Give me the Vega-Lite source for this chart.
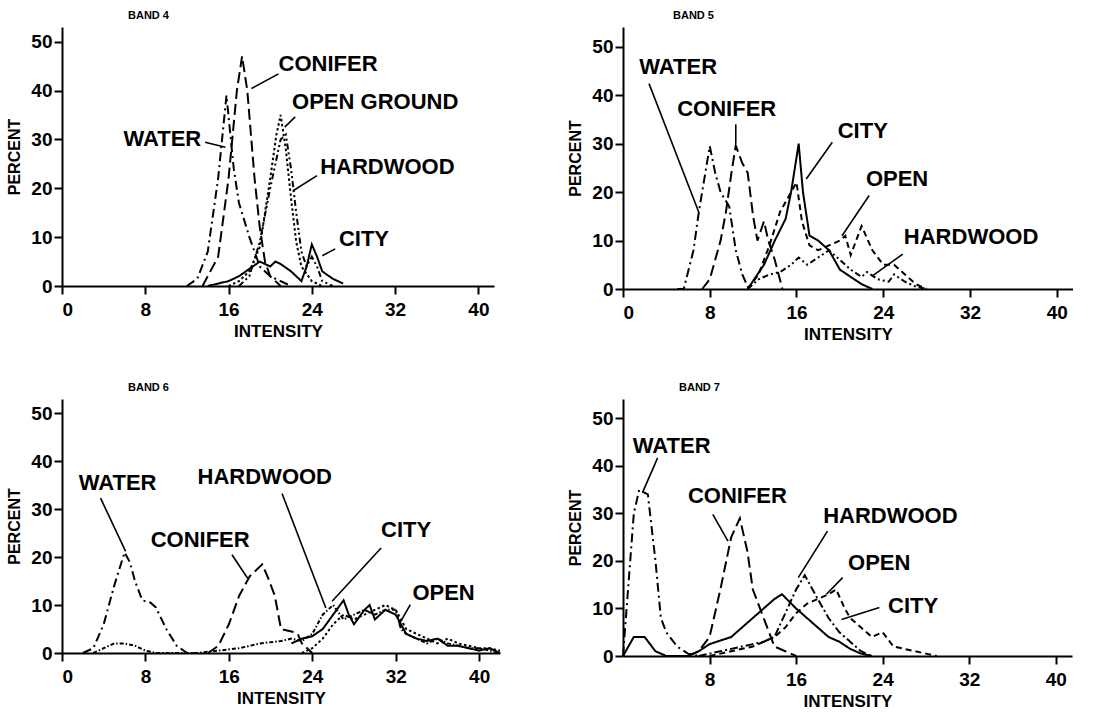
{
  "$schema": "https://vega.github.io/schema/vega-lite/v6.json",
  "background": "white",
  "padding": {"left": 6, "top": 10, "right": 0, "bottom": 0},
  "config": {
    "view": {"stroke": null},
    "font": "Liberation Sans",
    "axis": {
      "grid": false,
      "domainColor": "black",
      "domainWidth": 2,
      "tickColor": "black",
      "tickWidth": 2,
      "tickSize": 8,
      "labelFont": "Liberation Sans",
      "labelFontSize": 19,
      "labelFontWeight": "bold",
      "labelColor": "black",
      "titleFont": "Liberation Sans",
      "titleFontSize": 17,
      "titleFontWeight": "bold",
      "titleColor": "black"
    },
    "axisX": {"labelPadding": 6, "titlePadding": 4},
    "axisY": {"labelPadding": 2, "titlePadding": 8, "titleFontSize": 16},
    "title": {"font": "Liberation Sans", "fontSize": 11, "fontWeight": "bold", "color": "black", "anchor": "start", "frame": "group", "offset": 6}
  },
  "datasets": {
    "lines": [
      {"b":"BAND 4","c":"WATER","x":12,"y":0},{"b":"BAND 4","c":"WATER","x":13,"y":1.5},{"b":"BAND 4","c":"WATER","x":14,"y":7},{"b":"BAND 4","c":"WATER","x":15,"y":22},{"b":"BAND 4","c":"WATER","x":15.8,"y":39},{"b":"BAND 4","c":"WATER","x":16.5,"y":24},{"b":"BAND 4","c":"WATER","x":17,"y":17},{"b":"BAND 4","c":"WATER","x":18,"y":10},{"b":"BAND 4","c":"WATER","x":19,"y":4},{"b":"BAND 4","c":"WATER","x":20,"y":2},{"b":"BAND 4","c":"WATER","x":21,"y":1},{"b":"BAND 4","c":"WATER","x":22,"y":0},
      {"b":"BAND 4","c":"CONIFER","x":13.5,"y":0},{"b":"BAND 4","c":"CONIFER","x":15,"y":6},{"b":"BAND 4","c":"CONIFER","x":16,"y":22},{"b":"BAND 4","c":"CONIFER","x":16.8,"y":40},{"b":"BAND 4","c":"CONIFER","x":17.3,"y":47},{"b":"BAND 4","c":"CONIFER","x":17.8,"y":40},{"b":"BAND 4","c":"CONIFER","x":18.5,"y":22},{"b":"BAND 4","c":"CONIFER","x":19,"y":12},{"b":"BAND 4","c":"CONIFER","x":19.5,"y":5},{"b":"BAND 4","c":"CONIFER","x":20,"y":2},{"b":"BAND 4","c":"CONIFER","x":21,"y":0},
      {"b":"BAND 4","c":"OPEN","x":16,"y":0},{"b":"BAND 4","c":"OPEN","x":17,"y":1},{"b":"BAND 4","c":"OPEN","x":18,"y":3},{"b":"BAND 4","c":"OPEN","x":19,"y":8},{"b":"BAND 4","c":"OPEN","x":20,"y":22},{"b":"BAND 4","c":"OPEN","x":20.6,"y":31},{"b":"BAND 4","c":"OPEN","x":21,"y":35},{"b":"BAND 4","c":"OPEN","x":21.5,"y":28},{"b":"BAND 4","c":"OPEN","x":22,"y":18},{"b":"BAND 4","c":"OPEN","x":22.5,"y":9},{"b":"BAND 4","c":"OPEN","x":23,"y":4},{"b":"BAND 4","c":"OPEN","x":24,"y":1},{"b":"BAND 4","c":"OPEN","x":25,"y":0},
      {"b":"BAND 4","c":"HARDWOOD","x":17,"y":0},{"b":"BAND 4","c":"HARDWOOD","x":18,"y":2},{"b":"BAND 4","c":"HARDWOOD","x":19,"y":9},{"b":"BAND 4","c":"HARDWOOD","x":20,"y":20},{"b":"BAND 4","c":"HARDWOOD","x":21,"y":30},{"b":"BAND 4","c":"HARDWOOD","x":21.5,"y":31},{"b":"BAND 4","c":"HARDWOOD","x":22,"y":24},{"b":"BAND 4","c":"HARDWOOD","x":22.5,"y":15},{"b":"BAND 4","c":"HARDWOOD","x":23,"y":7},{"b":"BAND 4","c":"HARDWOOD","x":23.5,"y":4},{"b":"BAND 4","c":"HARDWOOD","x":24,"y":6},{"b":"BAND 4","c":"HARDWOOD","x":24.5,"y":4},{"b":"BAND 4","c":"HARDWOOD","x":25,"y":1},{"b":"BAND 4","c":"HARDWOOD","x":26,"y":0},
      {"b":"BAND 4","c":"CITY","x":14,"y":0},{"b":"BAND 4","c":"CITY","x":16,"y":1},{"b":"BAND 4","c":"CITY","x":17,"y":2},{"b":"BAND 4","c":"CITY","x":18,"y":3.5},{"b":"BAND 4","c":"CITY","x":19,"y":5},{"b":"BAND 4","c":"CITY","x":20,"y":4},{"b":"BAND 4","c":"CITY","x":20.5,"y":5},{"b":"BAND 4","c":"CITY","x":21,"y":4.5},{"b":"BAND 4","c":"CITY","x":22,"y":3},{"b":"BAND 4","c":"CITY","x":23,"y":1},{"b":"BAND 4","c":"CITY","x":23.5,"y":4},{"b":"BAND 4","c":"CITY","x":24,"y":8.5},{"b":"BAND 4","c":"CITY","x":24.5,"y":6},{"b":"BAND 4","c":"CITY","x":25,"y":3},{"b":"BAND 4","c":"CITY","x":26,"y":1.5},{"b":"BAND 4","c":"CITY","x":27,"y":0.5},

      {"b":"BAND 5","c":"WATER","x":5,"y":0},{"b":"BAND 5","c":"WATER","x":5.6,"y":0},{"b":"BAND 5","c":"WATER","x":6.5,"y":8},{"b":"BAND 5","c":"WATER","x":7,"y":16},{"b":"BAND 5","c":"WATER","x":8,"y":29.5},{"b":"BAND 5","c":"WATER","x":8.5,"y":24},{"b":"BAND 5","c":"WATER","x":9,"y":20},{"b":"BAND 5","c":"WATER","x":9.8,"y":17},{"b":"BAND 5","c":"WATER","x":10.4,"y":8},{"b":"BAND 5","c":"WATER","x":11,"y":3},{"b":"BAND 5","c":"WATER","x":11.5,"y":0.5},{"b":"BAND 5","c":"WATER","x":12,"y":0},
      {"b":"BAND 5","c":"CONIFER","x":7.3,"y":0},{"b":"BAND 5","c":"CONIFER","x":8,"y":2},{"b":"BAND 5","c":"CONIFER","x":9,"y":10},{"b":"BAND 5","c":"CONIFER","x":9.5,"y":16},{"b":"BAND 5","c":"CONIFER","x":10,"y":24},{"b":"BAND 5","c":"CONIFER","x":10.4,"y":29.6},{"b":"BAND 5","c":"CONIFER","x":11,"y":26},{"b":"BAND 5","c":"CONIFER","x":11.5,"y":24},{"b":"BAND 5","c":"CONIFER","x":12,"y":15},{"b":"BAND 5","c":"CONIFER","x":12.4,"y":10},{"b":"BAND 5","c":"CONIFER","x":13,"y":14},{"b":"BAND 5","c":"CONIFER","x":13.4,"y":10},{"b":"BAND 5","c":"CONIFER","x":14,"y":6},{"b":"BAND 5","c":"CONIFER","x":14.7,"y":0},
      {"b":"BAND 5","c":"CITY","x":11.5,"y":0},{"b":"BAND 5","c":"CITY","x":13,"y":5},{"b":"BAND 5","c":"CITY","x":14,"y":10},{"b":"BAND 5","c":"CITY","x":15,"y":14.5},{"b":"BAND 5","c":"CITY","x":15.5,"y":20},{"b":"BAND 5","c":"CITY","x":16.2,"y":30},{"b":"BAND 5","c":"CITY","x":16.6,"y":20},{"b":"BAND 5","c":"CITY","x":17.2,"y":11},{"b":"BAND 5","c":"CITY","x":18,"y":10},{"b":"BAND 5","c":"CITY","x":19,"y":8},{"b":"BAND 5","c":"CITY","x":20,"y":4},{"b":"BAND 5","c":"CITY","x":21,"y":2.5},{"b":"BAND 5","c":"CITY","x":22,"y":1},{"b":"BAND 5","c":"CITY","x":23,"y":0},
      {"b":"BAND 5","c":"OPEN","x":11.5,"y":0},{"b":"BAND 5","c":"OPEN","x":12.5,"y":3},{"b":"BAND 5","c":"OPEN","x":13.5,"y":9},{"b":"BAND 5","c":"OPEN","x":14.5,"y":16},{"b":"BAND 5","c":"OPEN","x":15.5,"y":20},{"b":"BAND 5","c":"OPEN","x":16,"y":22},{"b":"BAND 5","c":"OPEN","x":16.5,"y":14},{"b":"BAND 5","c":"OPEN","x":17.2,"y":9},{"b":"BAND 5","c":"OPEN","x":18,"y":8},{"b":"BAND 5","c":"OPEN","x":19,"y":9},{"b":"BAND 5","c":"OPEN","x":20,"y":10},{"b":"BAND 5","c":"OPEN","x":20.5,"y":11},{"b":"BAND 5","c":"OPEN","x":21,"y":7},{"b":"BAND 5","c":"OPEN","x":22,"y":13},{"b":"BAND 5","c":"OPEN","x":23,"y":8},{"b":"BAND 5","c":"OPEN","x":24,"y":5},{"b":"BAND 5","c":"OPEN","x":25,"y":5},{"b":"BAND 5","c":"OPEN","x":26,"y":3},{"b":"BAND 5","c":"OPEN","x":27,"y":1},{"b":"BAND 5","c":"OPEN","x":28,"y":0},
      {"b":"BAND 5","c":"HARDWOOD","x":11.5,"y":0},{"b":"BAND 5","c":"HARDWOOD","x":12.5,"y":2},{"b":"BAND 5","c":"HARDWOOD","x":13.5,"y":3},{"b":"BAND 5","c":"HARDWOOD","x":14.5,"y":3.5},{"b":"BAND 5","c":"HARDWOOD","x":15.5,"y":5},{"b":"BAND 5","c":"HARDWOOD","x":16.2,"y":6.5},{"b":"BAND 5","c":"HARDWOOD","x":17,"y":5},{"b":"BAND 5","c":"HARDWOOD","x":18,"y":6.5},{"b":"BAND 5","c":"HARDWOOD","x":19,"y":8},{"b":"BAND 5","c":"HARDWOOD","x":20,"y":6},{"b":"BAND 5","c":"HARDWOOD","x":21,"y":4},{"b":"BAND 5","c":"HARDWOOD","x":22,"y":2.5},{"b":"BAND 5","c":"HARDWOOD","x":22.5,"y":3.5},{"b":"BAND 5","c":"HARDWOOD","x":23.5,"y":2},{"b":"BAND 5","c":"HARDWOOD","x":24.5,"y":1.5},{"b":"BAND 5","c":"HARDWOOD","x":25,"y":3},{"b":"BAND 5","c":"HARDWOOD","x":26,"y":1.5},{"b":"BAND 5","c":"HARDWOOD","x":27,"y":0.5},{"b":"BAND 5","c":"HARDWOOD","x":28,"y":0},

      {"b":"BAND 6","c":"WATER","x":2,"y":0},{"b":"BAND 6","c":"WATER","x":3,"y":1},{"b":"BAND 6","c":"WATER","x":4,"y":6},{"b":"BAND 6","c":"WATER","x":5,"y":14},{"b":"BAND 6","c":"WATER","x":6,"y":21},{"b":"BAND 6","c":"WATER","x":6.5,"y":19},{"b":"BAND 6","c":"WATER","x":7,"y":15},{"b":"BAND 6","c":"WATER","x":7.7,"y":11},{"b":"BAND 6","c":"WATER","x":8.5,"y":10.5},{"b":"BAND 6","c":"WATER","x":9,"y":9.5},{"b":"BAND 6","c":"WATER","x":10,"y":5},{"b":"BAND 6","c":"WATER","x":11,"y":1.5},{"b":"BAND 6","c":"WATER","x":12,"y":0},{"b":"BAND 6","c":"WATER","x":13,"y":0},
      {"b":"BAND 6","c":"CONIFER","x":14,"y":0},{"b":"BAND 6","c":"CONIFER","x":15,"y":1.5},{"b":"BAND 6","c":"CONIFER","x":16,"y":6},{"b":"BAND 6","c":"CONIFER","x":17,"y":12},{"b":"BAND 6","c":"CONIFER","x":18,"y":16},{"b":"BAND 6","c":"CONIFER","x":19.2,"y":18.5},{"b":"BAND 6","c":"CONIFER","x":19.7,"y":16},{"b":"BAND 6","c":"CONIFER","x":20.4,"y":12},{"b":"BAND 6","c":"CONIFER","x":21,"y":5},{"b":"BAND 6","c":"CONIFER","x":22,"y":4.5},{"b":"BAND 6","c":"CONIFER","x":22.6,"y":4},{"b":"BAND 6","c":"CONIFER","x":23,"y":2},{"b":"BAND 6","c":"CONIFER","x":24,"y":0},
      {"b":"BAND 6","c":"HARDWOOD","x":3,"y":0},{"b":"BAND 6","c":"HARDWOOD","x":4,"y":1},{"b":"BAND 6","c":"HARDWOOD","x":5,"y":2},{"b":"BAND 6","c":"HARDWOOD","x":6,"y":2},{"b":"BAND 6","c":"HARDWOOD","x":7,"y":1.5},{"b":"BAND 6","c":"HARDWOOD","x":8,"y":0.5},{"b":"BAND 6","c":"HARDWOOD","x":9,"y":0},{"b":"BAND 6","c":"HARDWOOD","x":13,"y":0},{"b":"BAND 6","c":"HARDWOOD","x":15,"y":0.5},{"b":"BAND 6","c":"HARDWOOD","x":17,"y":1},{"b":"BAND 6","c":"HARDWOOD","x":19,"y":2},{"b":"BAND 6","c":"HARDWOOD","x":21,"y":2.5},{"b":"BAND 6","c":"HARDWOOD","x":22,"y":3},{"b":"BAND 6","c":"HARDWOOD","x":23,"y":2.5},{"b":"BAND 6","c":"HARDWOOD","x":24,"y":4},{"b":"BAND 6","c":"HARDWOOD","x":25,"y":8},{"b":"BAND 6","c":"HARDWOOD","x":26,"y":10},{"b":"BAND 6","c":"HARDWOOD","x":27,"y":7},{"b":"BAND 6","c":"HARDWOOD","x":28,"y":8},{"b":"BAND 6","c":"HARDWOOD","x":29,"y":9},{"b":"BAND 6","c":"HARDWOOD","x":30,"y":8},{"b":"BAND 6","c":"HARDWOOD","x":31,"y":9},{"b":"BAND 6","c":"HARDWOOD","x":32,"y":9},{"b":"BAND 6","c":"HARDWOOD","x":32.5,"y":5},{"b":"BAND 6","c":"HARDWOOD","x":33,"y":4},{"b":"BAND 6","c":"HARDWOOD","x":34,"y":3},{"b":"BAND 6","c":"HARDWOOD","x":35,"y":2},{"b":"BAND 6","c":"HARDWOOD","x":36,"y":3},{"b":"BAND 6","c":"HARDWOOD","x":37,"y":2},{"b":"BAND 6","c":"HARDWOOD","x":38,"y":1.5},{"b":"BAND 6","c":"HARDWOOD","x":39,"y":1},{"b":"BAND 6","c":"HARDWOOD","x":40,"y":1},{"b":"BAND 6","c":"HARDWOOD","x":41,"y":0.5},{"b":"BAND 6","c":"HARDWOOD","x":42,"y":0},
      {"b":"BAND 6","c":"CITY","x":22,"y":2},{"b":"BAND 6","c":"CITY","x":23,"y":3},{"b":"BAND 6","c":"CITY","x":24,"y":3.5},{"b":"BAND 6","c":"CITY","x":25,"y":5},{"b":"BAND 6","c":"CITY","x":26,"y":8},{"b":"BAND 6","c":"CITY","x":27,"y":11},{"b":"BAND 6","c":"CITY","x":27.5,"y":8},{"b":"BAND 6","c":"CITY","x":28,"y":6},{"b":"BAND 6","c":"CITY","x":29,"y":9},{"b":"BAND 6","c":"CITY","x":29.5,"y":10},{"b":"BAND 6","c":"CITY","x":30,"y":7},{"b":"BAND 6","c":"CITY","x":31,"y":9},{"b":"BAND 6","c":"CITY","x":32,"y":8},{"b":"BAND 6","c":"CITY","x":32.5,"y":6},{"b":"BAND 6","c":"CITY","x":33,"y":4},{"b":"BAND 6","c":"CITY","x":34,"y":3},{"b":"BAND 6","c":"CITY","x":35,"y":2.5},{"b":"BAND 6","c":"CITY","x":36,"y":3},{"b":"BAND 6","c":"CITY","x":37,"y":1.5},{"b":"BAND 6","c":"CITY","x":38,"y":1.5},{"b":"BAND 6","c":"CITY","x":39,"y":1},{"b":"BAND 6","c":"CITY","x":40,"y":0.5},{"b":"BAND 6","c":"CITY","x":41,"y":1},{"b":"BAND 6","c":"CITY","x":42,"y":0},
      {"b":"BAND 6","c":"OPEN","x":23,"y":0},{"b":"BAND 6","c":"OPEN","x":24,"y":1},{"b":"BAND 6","c":"OPEN","x":25,"y":3},{"b":"BAND 6","c":"OPEN","x":26,"y":6},{"b":"BAND 6","c":"OPEN","x":27,"y":8},{"b":"BAND 6","c":"OPEN","x":28,"y":7},{"b":"BAND 6","c":"OPEN","x":29,"y":8},{"b":"BAND 6","c":"OPEN","x":30,"y":9},{"b":"BAND 6","c":"OPEN","x":31,"y":10},{"b":"BAND 6","c":"OPEN","x":32,"y":9},{"b":"BAND 6","c":"OPEN","x":32.5,"y":7},{"b":"BAND 6","c":"OPEN","x":33,"y":5},{"b":"BAND 6","c":"OPEN","x":34,"y":4},{"b":"BAND 6","c":"OPEN","x":35,"y":3},{"b":"BAND 6","c":"OPEN","x":36,"y":2},{"b":"BAND 6","c":"OPEN","x":37,"y":3},{"b":"BAND 6","c":"OPEN","x":38,"y":2},{"b":"BAND 6","c":"OPEN","x":39,"y":1.5},{"b":"BAND 6","c":"OPEN","x":40,"y":1},{"b":"BAND 6","c":"OPEN","x":41,"y":1},{"b":"BAND 6","c":"OPEN","x":42,"y":0.5},

      {"b":"BAND 7","c":"WATER","x":0,"y":0},{"b":"BAND 7","c":"WATER","x":0.5,"y":15},{"b":"BAND 7","c":"WATER","x":1,"y":30},{"b":"BAND 7","c":"WATER","x":1.5,"y":35},{"b":"BAND 7","c":"WATER","x":2.3,"y":34},{"b":"BAND 7","c":"WATER","x":3,"y":20},{"b":"BAND 7","c":"WATER","x":3.5,"y":8},{"b":"BAND 7","c":"WATER","x":4,"y":5},{"b":"BAND 7","c":"WATER","x":5,"y":2},{"b":"BAND 7","c":"WATER","x":6,"y":0.5},{"b":"BAND 7","c":"WATER","x":7,"y":0},
      {"b":"BAND 7","c":"CONIFER","x":6,"y":0},{"b":"BAND 7","c":"CONIFER","x":7,"y":1},{"b":"BAND 7","c":"CONIFER","x":8,"y":4},{"b":"BAND 7","c":"CONIFER","x":9,"y":14},{"b":"BAND 7","c":"CONIFER","x":10,"y":25},{"b":"BAND 7","c":"CONIFER","x":10.8,"y":29},{"b":"BAND 7","c":"CONIFER","x":11.5,"y":22},{"b":"BAND 7","c":"CONIFER","x":12,"y":14},{"b":"BAND 7","c":"CONIFER","x":13,"y":8},{"b":"BAND 7","c":"CONIFER","x":14,"y":2},{"b":"BAND 7","c":"CONIFER","x":15,"y":1},{"b":"BAND 7","c":"CONIFER","x":16,"y":0},
      {"b":"BAND 7","c":"HARDWOOD","x":7,"y":0},{"b":"BAND 7","c":"HARDWOOD","x":9,"y":1},{"b":"BAND 7","c":"HARDWOOD","x":11,"y":2},{"b":"BAND 7","c":"HARDWOOD","x":12,"y":2.5},{"b":"BAND 7","c":"HARDWOOD","x":13,"y":3},{"b":"BAND 7","c":"HARDWOOD","x":14,"y":4},{"b":"BAND 7","c":"HARDWOOD","x":15,"y":9},{"b":"BAND 7","c":"HARDWOOD","x":16,"y":14},{"b":"BAND 7","c":"HARDWOOD","x":16.8,"y":17},{"b":"BAND 7","c":"HARDWOOD","x":18,"y":12},{"b":"BAND 7","c":"HARDWOOD","x":19,"y":8},{"b":"BAND 7","c":"HARDWOOD","x":20,"y":5},{"b":"BAND 7","c":"HARDWOOD","x":21,"y":3},{"b":"BAND 7","c":"HARDWOOD","x":22,"y":1},{"b":"BAND 7","c":"HARDWOOD","x":23,"y":0},
      {"b":"BAND 7","c":"CITY","x":0,"y":0},{"b":"BAND 7","c":"CITY","x":1,"y":4},{"b":"BAND 7","c":"CITY","x":2,"y":4},{"b":"BAND 7","c":"CITY","x":3,"y":1},{"b":"BAND 7","c":"CITY","x":4,"y":0},{"b":"BAND 7","c":"CITY","x":6,"y":0},{"b":"BAND 7","c":"CITY","x":7,"y":1},{"b":"BAND 7","c":"CITY","x":8,"y":2.5},{"b":"BAND 7","c":"CITY","x":10,"y":4},{"b":"BAND 7","c":"CITY","x":12,"y":8},{"b":"BAND 7","c":"CITY","x":13,"y":10},{"b":"BAND 7","c":"CITY","x":14,"y":12},{"b":"BAND 7","c":"CITY","x":14.7,"y":13},{"b":"BAND 7","c":"CITY","x":16,"y":10},{"b":"BAND 7","c":"CITY","x":17,"y":8},{"b":"BAND 7","c":"CITY","x":18,"y":6},{"b":"BAND 7","c":"CITY","x":19,"y":4},{"b":"BAND 7","c":"CITY","x":20,"y":3},{"b":"BAND 7","c":"CITY","x":21,"y":1.5},{"b":"BAND 7","c":"CITY","x":22,"y":0.5},{"b":"BAND 7","c":"CITY","x":23,"y":0},
      {"b":"BAND 7","c":"OPEN","x":8,"y":0},{"b":"BAND 7","c":"OPEN","x":10,"y":1},{"b":"BAND 7","c":"OPEN","x":12,"y":2},{"b":"BAND 7","c":"OPEN","x":13,"y":3},{"b":"BAND 7","c":"OPEN","x":14,"y":4},{"b":"BAND 7","c":"OPEN","x":15,"y":6},{"b":"BAND 7","c":"OPEN","x":16,"y":9},{"b":"BAND 7","c":"OPEN","x":17,"y":11},{"b":"BAND 7","c":"OPEN","x":18,"y":12},{"b":"BAND 7","c":"OPEN","x":19,"y":13},{"b":"BAND 7","c":"OPEN","x":19.7,"y":14},{"b":"BAND 7","c":"OPEN","x":20.5,"y":10},{"b":"BAND 7","c":"OPEN","x":21,"y":8},{"b":"BAND 7","c":"OPEN","x":22,"y":6},{"b":"BAND 7","c":"OPEN","x":23,"y":4},{"b":"BAND 7","c":"OPEN","x":24,"y":5},{"b":"BAND 7","c":"OPEN","x":25,"y":2},{"b":"BAND 7","c":"OPEN","x":26,"y":1.5},{"b":"BAND 7","c":"OPEN","x":27,"y":1},{"b":"BAND 7","c":"OPEN","x":28,"y":0.5},{"b":"BAND 7","c":"OPEN","x":29,"y":0}
    ],
    "labels": [
      {"b":"BAND 4","t":"CONIFER","x":20.8,"y":45.5},
      {"b":"BAND 4","t":"OPEN GROUND","x":22.1,"y":37.6},
      {"b":"BAND 4","t":"WATER","x":5.9,"y":30.1},
      {"b":"BAND 4","t":"HARDWOOD","x":24.8,"y":24.3},
      {"b":"BAND 4","t":"CITY","x":26.6,"y":9.6},
      {"b":"BAND 5","t":"WATER","x":1.5,"y":45.8},
      {"b":"BAND 5","t":"CONIFER","x":5.0,"y":37.2},
      {"b":"BAND 5","t":"CITY","x":19.8,"y":32.7},
      {"b":"BAND 5","t":"OPEN","x":22.4,"y":22.7},
      {"b":"BAND 5","t":"HARDWOOD","x":25.9,"y":10.7},
      {"b":"BAND 6","t":"WATER","x":1.6,"y":35.4},
      {"b":"BAND 6","t":"CONIFER","x":8.5,"y":23.6},
      {"b":"BAND 6","t":"HARDWOOD","x":13.0,"y":36.8},
      {"b":"BAND 6","t":"CITY","x":30.6,"y":25.7},
      {"b":"BAND 6","t":"OPEN","x":33.6,"y":12.5},
      {"b":"BAND 7","t":"WATER","x":0.9,"y":44.2},
      {"b":"BAND 7","t":"CONIFER","x":6.0,"y":33.7},
      {"b":"BAND 7","t":"HARDWOOD","x":18.5,"y":29.5},
      {"b":"BAND 7","t":"OPEN","x":20.8,"y":19.6},
      {"b":"BAND 7","t":"CITY","x":24.5,"y":10.5}
    ],
    "leaders": [
      {"b":"BAND 4","x":18.2,"y":40.4,"x2":20.8,"y2":43.4},
      {"b":"BAND 4","x":21.4,"y":32.5,"x2":22.4,"y2":34.6},
      {"b":"BAND 4","x":13.75,"y":29.4,"x2":15.7,"y2":28.4},
      {"b":"BAND 4","x":22.2,"y":19.5,"x2":24.5,"y2":22.6},
      {"b":"BAND 4","x":25.0,"y":6.2,"x2":26.25,"y2":7.6},
      {"b":"BAND 5","x":2.4,"y":42.4,"x2":7.0,"y2":15.8},
      {"b":"BAND 5","x":10.4,"y":34,"x2":10.4,"y2":30},
      {"b":"BAND 5","x":19.3,"y":30.3,"x2":16.9,"y2":22.7},
      {"b":"BAND 5","x":22.7,"y":19.3,"x2":20.2,"y2":11},
      {"b":"BAND 5","x":25.8,"y":7.2,"x2":23.0,"y2":2.7},
      {"b":"BAND 6","x":3.7,"y":32.3,"x2":6.1,"y2":21.2},
      {"b":"BAND 6","x":16.3,"y":20.5,"x2":17.8,"y2":15.6},
      {"b":"BAND 6","x":21.1,"y":33.3,"x2":25.3,"y2":9.4},
      {"b":"BAND 6","x":30.6,"y":21.9,"x2":25.9,"y2":10.8},
      {"b":"BAND 6","x":33.4,"y":10.1,"x2":32.3,"y2":5.9},
      {"b":"BAND 7","x":3.2,"y":41.7,"x2":1.8,"y2":34.4},
      {"b":"BAND 7","x":8.3,"y":29.8,"x2":9.7,"y2":24.2},
      {"b":"BAND 7","x":18.9,"y":26.3,"x2":16.2,"y2":16.5},
      {"b":"BAND 7","x":20.3,"y":16.5,"x2":18.8,"y2":13},
      {"b":"BAND 7","x":23.7,"y":10.2,"x2":20.2,"y2":7.7}
    ]
  },
  "concat": [
    {
      "title": {"text": "BAND 4", "dx": 66},
      "width": 432, "height": 259,
      "layer": [
        {"data": {"name": "lines"}, "transform": [{"filter": "datum.b === 'BAND 4'"}],
         "mark": {"type": "line", "color": "black", "strokeWidth": 2},
         "encoding": {
           "x": {"field": "x", "type": "quantitative", "scale": {"domain": [0, 41.5], "nice": false, "zero": false}, "axis": {"values": [0, 8, 16, 24, 32, 40], "title": "INTENSITY"}},
           "y": {"field": "y", "type": "quantitative", "scale": {"domain": [0, 53], "nice": false}, "axis": {"values": [0, 10, 20, 30, 40, 50], "title": "PERCENT"}},
           "detail": {"field": "c"},
           "strokeDash": {"field": "c", "type": "nominal", "legend": null, "scale": {"domain": ["WATER", "CONIFER", "OPEN", "HARDWOOD", "CITY"], "range": [[9, 4, 2, 4], [11, 5], [2.5, 2.5], [6, 3, 2, 3, 2, 3], [1, 0]]}}
         }},
        {"data": {"name": "leaders"}, "transform": [{"filter": "datum.b === 'BAND 4'"}],
         "mark": {"type": "rule", "color": "black", "strokeWidth": 1.6},
         "encoding": {"x": {"field": "x", "type": "quantitative"}, "y": {"field": "y", "type": "quantitative"}, "x2": {"field": "x2"}, "y2": {"field": "y2"}}},
        {"data": {"name": "labels"}, "transform": [{"filter": "datum.b === 'BAND 4'"}],
         "mark": {"type": "text", "align": "left", "baseline": "middle", "fontSize": 22, "fontWeight": "bold", "font": "Liberation Sans", "color": "black"},
         "encoding": {"x": {"field": "x", "type": "quantitative"}, "y": {"field": "y", "type": "quantitative"}, "text": {"field": "t"}}}
      ]
    },
    {
      "title": {"text": "BAND 5", "dx": 50},
      "width": 450, "height": 262,
      "layer": [
        {"data": {"name": "lines"}, "transform": [{"filter": "datum.b === 'BAND 5'"}],
         "mark": {"type": "line", "color": "black", "strokeWidth": 2},
         "encoding": {
           "x": {"field": "x", "type": "quantitative", "scale": {"domain": [0, 41.5], "nice": false, "zero": false}, "axis": {"values": [0, 8, 16, 24, 32, 40], "title": "INTENSITY"}},
           "y": {"field": "y", "type": "quantitative", "scale": {"domain": [0, 54.1], "nice": false}, "axis": {"values": [0, 10, 20, 30, 40, 50], "title": "PERCENT"}},
           "detail": {"field": "c"},
           "strokeDash": {"field": "c", "type": "nominal", "legend": null, "scale": {"domain": ["WATER", "CONIFER", "OPEN", "HARDWOOD", "CITY"], "range": [[9, 4, 2, 4], [11, 5], [6, 4], [6, 3, 2, 3, 2, 3], [1, 0]]}}
         }},
        {"data": {"name": "leaders"}, "transform": [{"filter": "datum.b === 'BAND 5'"}],
         "mark": {"type": "rule", "color": "black", "strokeWidth": 1.6},
         "encoding": {"x": {"field": "x", "type": "quantitative"}, "y": {"field": "y", "type": "quantitative"}, "x2": {"field": "x2"}, "y2": {"field": "y2"}}},
        {"data": {"name": "labels"}, "transform": [{"filter": "datum.b === 'BAND 5'"}],
         "mark": {"type": "text", "align": "left", "baseline": "middle", "fontSize": 22, "fontWeight": "bold", "font": "Liberation Sans", "color": "black"},
         "encoding": {"x": {"field": "x", "type": "quantitative"}, "y": {"field": "y", "type": "quantitative"}, "text": {"field": "t"}}}
      ]
    },
    {
      "title": {"text": "BAND 6", "dx": 66},
      "width": 438, "height": 254,
      "layer": [
        {"data": {"name": "lines"}, "transform": [{"filter": "datum.b === 'BAND 6'"}],
         "mark": {"type": "line", "color": "black", "strokeWidth": 2},
         "encoding": {
           "x": {"field": "x", "type": "quantitative", "scale": {"domain": [0, 42], "nice": false, "zero": false}, "axis": {"values": [0, 8, 16, 24, 32, 40], "title": "INTENSITY"}},
           "y": {"field": "y", "type": "quantitative", "scale": {"domain": [0, 53], "nice": false}, "axis": {"values": [0, 10, 20, 30, 40, 50], "title": "PERCENT"}},
           "detail": {"field": "c"},
           "strokeDash": {"field": "c", "type": "nominal", "legend": null, "scale": {"domain": ["WATER", "CONIFER", "OPEN", "HARDWOOD", "CITY"], "range": [[9, 4, 2, 4], [11, 5], [2.5, 2.5], [4, 2, 1.5, 2], [1, 0]]}}
         }},
        {"data": {"name": "leaders"}, "transform": [{"filter": "datum.b === 'BAND 6'"}],
         "mark": {"type": "rule", "color": "black", "strokeWidth": 1.6},
         "encoding": {"x": {"field": "x", "type": "quantitative"}, "y": {"field": "y", "type": "quantitative"}, "x2": {"field": "x2"}, "y2": {"field": "y2"}}},
        {"data": {"name": "labels"}, "transform": [{"filter": "datum.b === 'BAND 6'"}],
         "mark": {"type": "text", "align": "left", "baseline": "middle", "fontSize": 22, "fontWeight": "bold", "font": "Liberation Sans", "color": "black"},
         "encoding": {"x": {"field": "x", "type": "quantitative"}, "y": {"field": "y", "type": "quantitative"}, "text": {"field": "t"}}}
      ]
    },
    {
      "title": {"text": "BAND 7", "dx": 56},
      "width": 449, "height": 257,
      "layer": [
        {"data": {"name": "lines"}, "transform": [{"filter": "datum.b === 'BAND 7'"}],
         "mark": {"type": "line", "color": "black", "strokeWidth": 2},
         "encoding": {
           "x": {"field": "x", "type": "quantitative", "scale": {"domain": [0, 41.5], "nice": false, "zero": false}, "axis": {"values": [8, 16, 24, 32, 40], "title": "INTENSITY"}},
           "y": {"field": "y", "type": "quantitative", "scale": {"domain": [0, 54.1], "nice": false}, "axis": {"values": [0, 10, 20, 30, 40, 50], "title": "PERCENT"}},
           "detail": {"field": "c"},
           "strokeDash": {"field": "c", "type": "nominal", "legend": null, "scale": {"domain": ["WATER", "CONIFER", "OPEN", "HARDWOOD", "CITY"], "range": [[9, 4, 2, 4], [11, 5], [6, 4], [8, 3, 2, 3], [1, 0]]}}
         }},
        {"data": {"name": "leaders"}, "transform": [{"filter": "datum.b === 'BAND 7'"}],
         "mark": {"type": "rule", "color": "black", "strokeWidth": 1.6},
         "encoding": {"x": {"field": "x", "type": "quantitative"}, "y": {"field": "y", "type": "quantitative"}, "x2": {"field": "x2"}, "y2": {"field": "y2"}}},
        {"data": {"name": "labels"}, "transform": [{"filter": "datum.b === 'BAND 7'"}],
         "mark": {"type": "text", "align": "left", "baseline": "middle", "fontSize": 22, "fontWeight": "bold", "font": "Liberation Sans", "color": "black"},
         "encoding": {"x": {"field": "x", "type": "quantitative"}, "y": {"field": "y", "type": "quantitative"}, "text": {"field": "t"}}}
      ]
    }
  ],
  "columns": 2,
  "spacing": {"column": 63, "row": 40},
  "resolve": {"scale": {"x": "independent", "y": "independent", "strokeDash": "independent"}}
}
